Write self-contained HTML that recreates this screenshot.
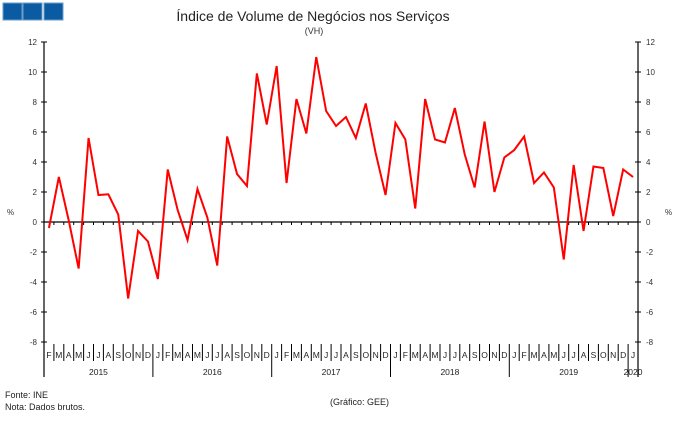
<!DOCTYPE html>
<html><head><meta charset="utf-8"><style>
body{margin:0;background:#fff;font-family:"Liberation Sans",sans-serif}
svg text{font-family:"Liberation Sans",sans-serif}
</style></head><body>
<svg width="679" height="418" viewBox="0 0 679 418" xmlns="http://www.w3.org/2000/svg">
<rect x="3" y="3" width="19" height="17" fill="#0b5ba3" stroke="#6c9cc8"/>
<rect x="23" y="3" width="19" height="17" fill="#0b5ba3" stroke="#6c9cc8"/>
<rect x="44" y="3" width="19" height="17" fill="#0b5ba3" stroke="#6c9cc8"/>
<text x="313" y="21" font-size="14" text-anchor="middle" fill="#222">Índice de Volume de Negócios nos Serviços</text>
<text x="314" y="34" font-size="9" text-anchor="middle" fill="#333">(VH)</text>
<text x="7" y="215" font-size="8" fill="#333">%</text>
<text x="665" y="215" font-size="8" fill="#333">%</text>
<g id="axes"></g>
<g id="series"></g>
<text x="5" y="398" font-size="9" fill="#222">Fonte: INE</text>
<text x="5" y="410" font-size="9" fill="#222">Nota: Dados brutos.</text>
<text x="330" y="405" font-size="9" fill="#222">(Gráfico: GEE)</text>
</svg>
<script>
const months = ["F","M","A","M","J","J","A","S","O","N","D","J","F","M","A","M","J","J","A","S","O","N","D","J","F","M","A","M","J","J","A","S","O","N","D","J","F","M","A","M","J","J","A","S","O","N","D","J","F","M","A","M","J","J","A","S","O","N","D","J"];
const values = [-0.4,3.0,0.1,-3.1,5.6,1.8,1.85,0.5,-5.1,-0.6,-1.3,
 -3.8,3.5,0.8,-1.2,2.2,0.3,-2.9,5.7,3.2,2.4,9.9,6.5,
 10.4,2.6,8.2,5.9,11.0,7.4,6.4,7.0,5.6,7.9,4.6,1.8,
 6.6,5.5,0.9,8.2,5.5,5.3,7.6,4.5,2.3,6.7,2.0,4.3,
 4.8,5.7,2.6,3.3,2.3,-2.5,3.8,-0.6,3.7,3.6,0.4,3.5,
 3.0];
const years = ["2015","2016","2017","2018","2019","2020"];
const yearStarts = [0,11,23,35,47,59];
const yTicks = [12,10,8,6,4,2,0,-2,-4,-6,-8];
const ns="http://www.w3.org/2000/svg";
const X0=44,X1=638,n=months.length,cw=(X1-X0)/n;
const x=i=>X0+cw*(i+0.5);
const y=v=>222-15*v;
const ax=document.getElementById('axes'),se=document.getElementById('series');
function mk(tag,at,parent){const e=document.createElementNS(ns,tag);for(const k in at)e.setAttribute(k,at[k]);parent.appendChild(e);return e;}
let e;
e=mk('line',{x1:X0,y1:y(12),x2:X0,y2:377,stroke:'#000','stroke-width':1.2},ax);


e=mk('line',{x1:X1,y1:y(12),x2:X1,y2:377,stroke:'#000','stroke-width':1.2},ax);


e=mk('line',{x1:X0,y1:y(0),x2:X1,y2:y(0),stroke:'#000','stroke-width':1.2},ax);


yTicks.forEach(v=>{
 mk('line',{x1:X0-3,y1:y(v),x2:X0+3,y2:y(v),stroke:'#000'},ax);
 mk('line',{x1:X1-3,y1:y(v),x2:X1+3,y2:y(v),stroke:'#000'},ax);
 e=mk('text',{x:X0-7,y:y(v)+3,'font-size':8,'text-anchor':'end',fill:'#333'},ax);e.textContent=v;
 
 
 e=mk('text',{x:X1+8,y:y(v)+3,'font-size':8,fill:'#333'},ax);e.textContent=v;
 
 
});
for(let i=1;i<n;i++){
 const bx=X0+cw*i;
 mk('line',{x1:bx,y1:y(0),x2:bx,y2:y(0)+3,stroke:'#000'},ax);
 const isYear=yearStarts.includes(i);
 mk('line',{x1:bx,y1:344,x2:bx,y2:isYear?377:361,stroke:'#000'},ax);
}
months.forEach((m,i)=>{
 e=mk('text',{x:x(i),y:358,'font-size':8.5,'text-anchor':'middle',fill:'#222'},ax);e.textContent=m;
 
 
});
years.forEach((yr,k)=>{
 const s=yearStarts[k],en=k<years.length-1?yearStarts[k+1]:n;
 e=mk('text',{x:(X0+cw*s+X0+cw*en)/2,y:375,'font-size':8.5,'text-anchor':'middle',fill:'#222'},ax);e.textContent=yr;
 
 
});
e=mk('polyline',{points:values.map((v,i)=>x(i)+','+y(v)).join(' '),fill:'none',stroke:'#ff0000','stroke-width':2,'stroke-linejoin':'miter'},se);


</script>
</body></html>
